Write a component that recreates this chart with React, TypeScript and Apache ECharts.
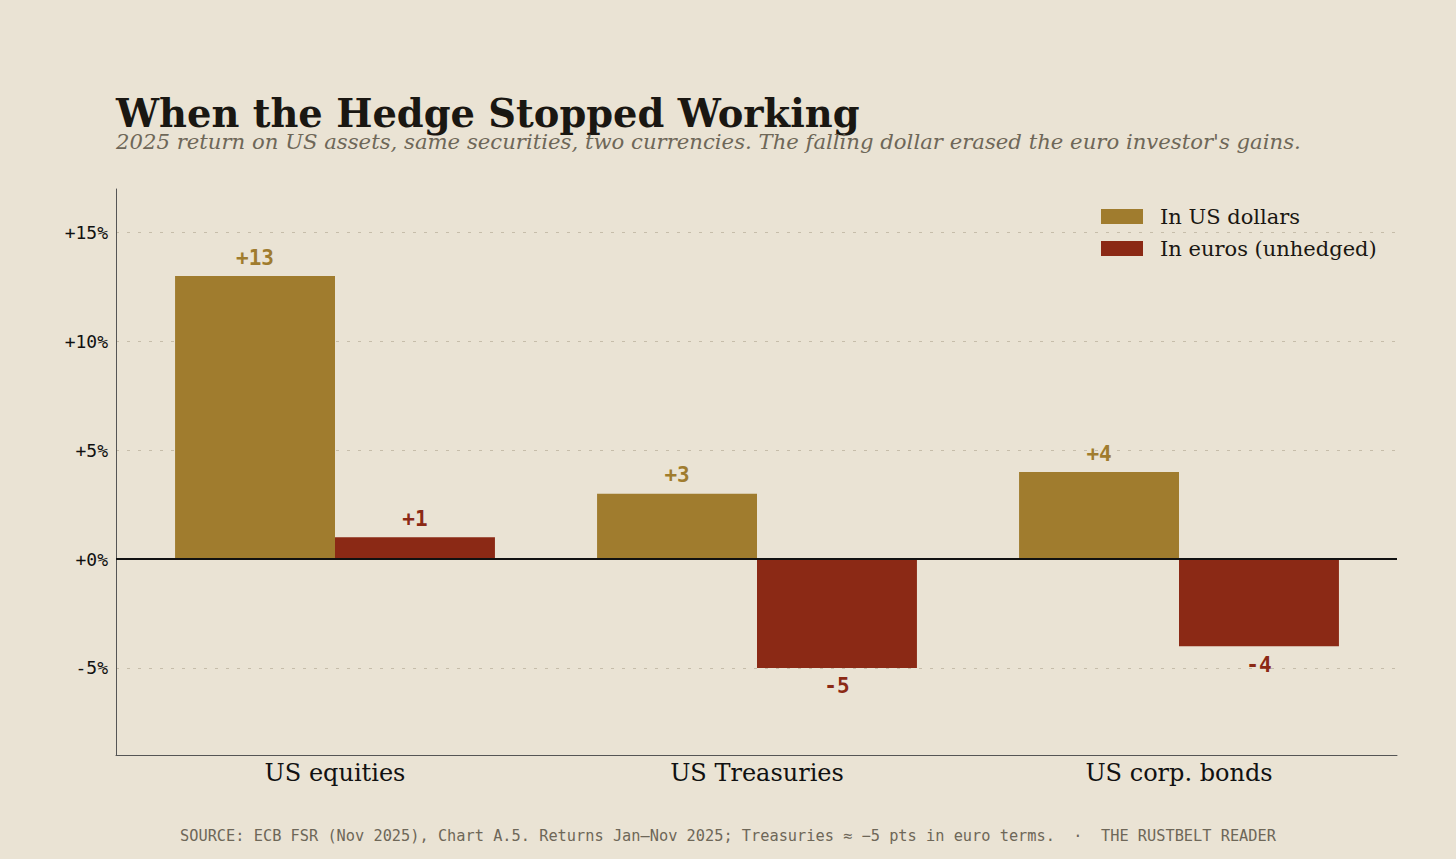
import React, { useEffect, useRef } from "react";
import * as echarts from "echarts";

const categories = ["US equities", "US Treasuries", "US corp. bonds"];
const usdReturns = [13, 3, 4];
const eurReturns = [1, -5, -4];
const seriesNames = ["In US dollars", "In euros (unhedged)"];

const titleText = "When the Hedge Stopped Working";
const subtitleText =
  "2025 return on US assets, same securities, two currencies. The falling dollar erased the euro investor's gains.";
const footerText =
  "SOURCE: ECB FSR (Nov 2025), Chart A.5. Returns Jan\u2013Nov 2025; Treasuries \u2248 \u22125 pts in euro terms.  \u00b7  THE RUSTBELT READER";

const Y_MIN = -9;
const Y_MAX = 17;

const BG = "#EAE3D4";
const GOLD = "#A07C2E";
const RED = "#8B2915";
const SERIF = "'DejaVu Serif', serif";
const MONO = "'DejaVu Sans Mono', monospace";

const signed = (v: number) => (v > 0 ? `+${v}` : `${v}`);

export default function App() {
  const ref = useRef<HTMLDivElement>(null);

  useEffect(() => {
    if (!ref.current) return;
    const chart = echarts.init(ref.current, undefined, { renderer: "svg" });

    const barLabel = (color: string) => ({
      show: true,
      color,
      fontFamily: MONO,
      fontWeight: "bold" as const,
      fontSize: 21,
      distance: 8,
      formatter: (p: any) => signed(p.value),
    });

    chart.setOption({
      animation: false,
      backgroundColor: BG,
      title: [
        {
          text: titleText,
          left: 116,
          top: 94,
          padding: 0,
          textStyle: { fontFamily: SERIF, fontWeight: "bold", fontSize: 38.4, color: "#1a1712" },
        },
        {
          text: subtitleText,
          left: 116,
          top: 131,
          padding: 0,
          textStyle: { fontFamily: SERIF, fontStyle: "italic", fontWeight: "normal", fontSize: 21.2, color: "#6e6758" },
        },
        {
          text: footerText,
          left: "center",
          top: 828,
          padding: 0,
          textStyle: { fontFamily: MONO, fontWeight: "normal", fontSize: 15.3, color: "#6e6758" },
        },
      ],
      legend: {
        data: seriesNames,
        orient: "vertical",
        left: 1101,
        top: 206,
        padding: 0,
        itemWidth: 42,
        itemHeight: 15,
        itemGap: 11,
        icon: "rect",
        textStyle: { fontFamily: SERIF, fontSize: 21, color: "#1a1712", padding: [0, 0, 0, 12] },
      },
      grid: [
        // frame: y labels, gridlines, axis lines
        { left: 116, right: 59, top: 189, bottom: 104, containLabel: false },
        // bars and category labels
        { left: 124, right: 66, top: 189, bottom: 104, containLabel: false },
      ],
      xAxis: [
        {
          type: "category",
          gridIndex: 0,
          data: categories,
          axisLine: { onZero: false, lineStyle: { color: "#555", width: 1 } },
          axisTick: { show: false },
          axisLabel: { show: false },
        },
        {
          type: "category",
          gridIndex: 1,
          data: categories,
          axisLine: { show: false },
          axisTick: { show: false },
          axisLabel: { fontFamily: SERIF, fontSize: 24, color: "#111", margin: 6 },
        },
      ],
      yAxis: [
        {
          type: "value",
          gridIndex: 0,
          min: Y_MIN,
          max: Y_MAX,
          axisLine: { show: true, lineStyle: { color: "#555", width: 1 } },
          axisTick: { show: false },
          axisLabel: {
            fontFamily: MONO,
            fontSize: 18,
            color: "#111",
            margin: 8,
            formatter: (v: number) => (v % 5 === 0 ? `${v >= 0 ? "+" : ""}${v}%` : ""),
          },
          splitLine: {
            show: true,
            showMinLine: false,
            showMaxLine: false,
            lineStyle: { color: "#C6BDAA", type: [3, 8], width: 1 },
          },
        },
        {
          type: "value",
          gridIndex: 1,
          min: Y_MIN,
          max: Y_MAX,
          axisLine: { show: false },
          axisTick: { show: false },
          axisLabel: { show: false },
          splitLine: { show: false },
        },
      ],
      series: [
        {
          // zero baseline across the full frame width
          type: "line",
          xAxisIndex: 0,
          yAxisIndex: 0,
          data: [],
          silent: true,
          markLine: {
            silent: true,
            symbol: "none",
            label: { show: false },
            lineStyle: { color: "#111", width: 2, type: "solid" },
            data: [{ yAxis: 0 }],
          },
          z: 5,
        },
        {
          name: seriesNames[0],
          type: "bar",
          xAxisIndex: 1,
          yAxisIndex: 1,
          data: usdReturns,
          itemStyle: { color: GOLD },
          barGap: "0%",
          barCategoryGap: "24.2%",
          label: { ...barLabel(GOLD), position: "top" },
        },
        {
          name: seriesNames[1],
          type: "bar",
          xAxisIndex: 1,
          yAxisIndex: 1,
          data: eurReturns.map((v) => ({
            value: v,
            label: { position: v < 0 ? "bottom" : "top" },
          })),
          itemStyle: { color: RED },
          barGap: "0%",
          barCategoryGap: "24.2%",
          label: barLabel(RED),
        },
      ],
    });

    return () => chart.dispose();
  }, []);

  return (
    <div
      ref={ref}
      style={{ position: "fixed", left: 0, top: 0, width: 1456, height: 859 }}
    />
  );
}
